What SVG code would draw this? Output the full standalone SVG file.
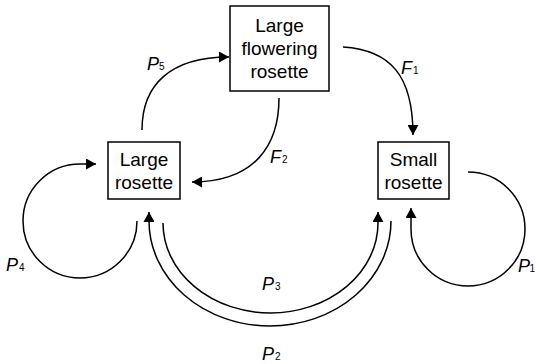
<svg xmlns="http://www.w3.org/2000/svg" width="536" height="364" viewBox="0 0 536 364">
<style>
.box{fill:#fff;stroke:#000;stroke-width:1.5}
.t{font-family:"Liberation Sans",Arial,sans-serif;font-size:19px;text-anchor:middle;fill:#000}
.lbl{font-family:"Liberation Sans",Arial,sans-serif;font-size:18px;font-style:italic;fill:#000}
.sub{font-family:"Liberation Sans",Arial,sans-serif;font-size:10px;fill:#000}
.c{fill:none;stroke:#000;stroke-width:1.5}
</style>
<defs>
<marker id="ah" markerUnits="userSpaceOnUse" markerWidth="11" markerHeight="11" refX="10" refY="5.5" orient="auto">
<path d="M0,0 L10,5.5 L0,11 z" fill="#000"/>
</marker>
</defs>
<rect width="536" height="364" fill="#fff"/>
<g id="connectors">
<path class="c" d="M142,130 C142,85 170,57 229,57" marker-end="url(#ah)"/>
<path class="c" d="M343,47 C390,50 413,75 413,135" marker-end="url(#ah)"/>
<path class="c" d="M279,98 C279,145 255,182 192,182" marker-end="url(#ah)"/>
<path class="c" d="M137,221 A57,57 0 1 1 80,164 L96,164" marker-end="url(#ah)"/>
<path class="c" d="M468,172 A57,57 0 1 1 411,229 L411,208" marker-end="url(#ah)"/>
<path class="c" d="M163,223 A107.5,90 0 0 0 378,223 L378,212" marker-end="url(#ah)"/>
<path class="c" d="M391,221 A121,105 0 0 1 149,221 L149,212" marker-end="url(#ah)"/>
</g>
<g id="labels">
<text class="lbl" x="147" y="70">P</text><text class="sub" x="159" y="70">5</text>
<text class="lbl" x="401" y="74">F</text><text class="sub" x="413" y="74">1</text>
<text class="lbl" x="270" y="163">F</text><text class="sub" x="282" y="163">2</text>
<text class="lbl" x="6" y="271">P</text><text class="sub" x="19" y="271">4</text>
<text class="lbl" x="518" y="272">P</text><text class="sub" x="529.5" y="272">1</text>
<text class="lbl" x="262" y="290">P</text><text class="sub" x="275" y="290">3</text>
<text class="lbl" x="262" y="360">P</text><text class="sub" x="275" y="360">2</text>
</g>
<g id="large-flowering-rosette">
<rect class="box" x="230" y="6" width="99" height="85"/>
<text class="t" x="279.5" y="32">Large</text>
<text class="t" x="279.5" y="55">flowering</text>
<text class="t" x="279.5" y="78">rosette</text>
</g>
<g id="large-rosette">
<rect class="box" x="108" y="142" width="72" height="57"/>
<text class="t" x="144" y="166">Large</text>
<text class="t" x="144" y="189">rosette</text>
</g>
<g id="small-rosette">
<rect class="box" x="378" y="142" width="71" height="57"/>
<text class="t" x="413.5" y="166">Small</text>
<text class="t" x="413.5" y="189">rosette</text>
</g>
</svg>
